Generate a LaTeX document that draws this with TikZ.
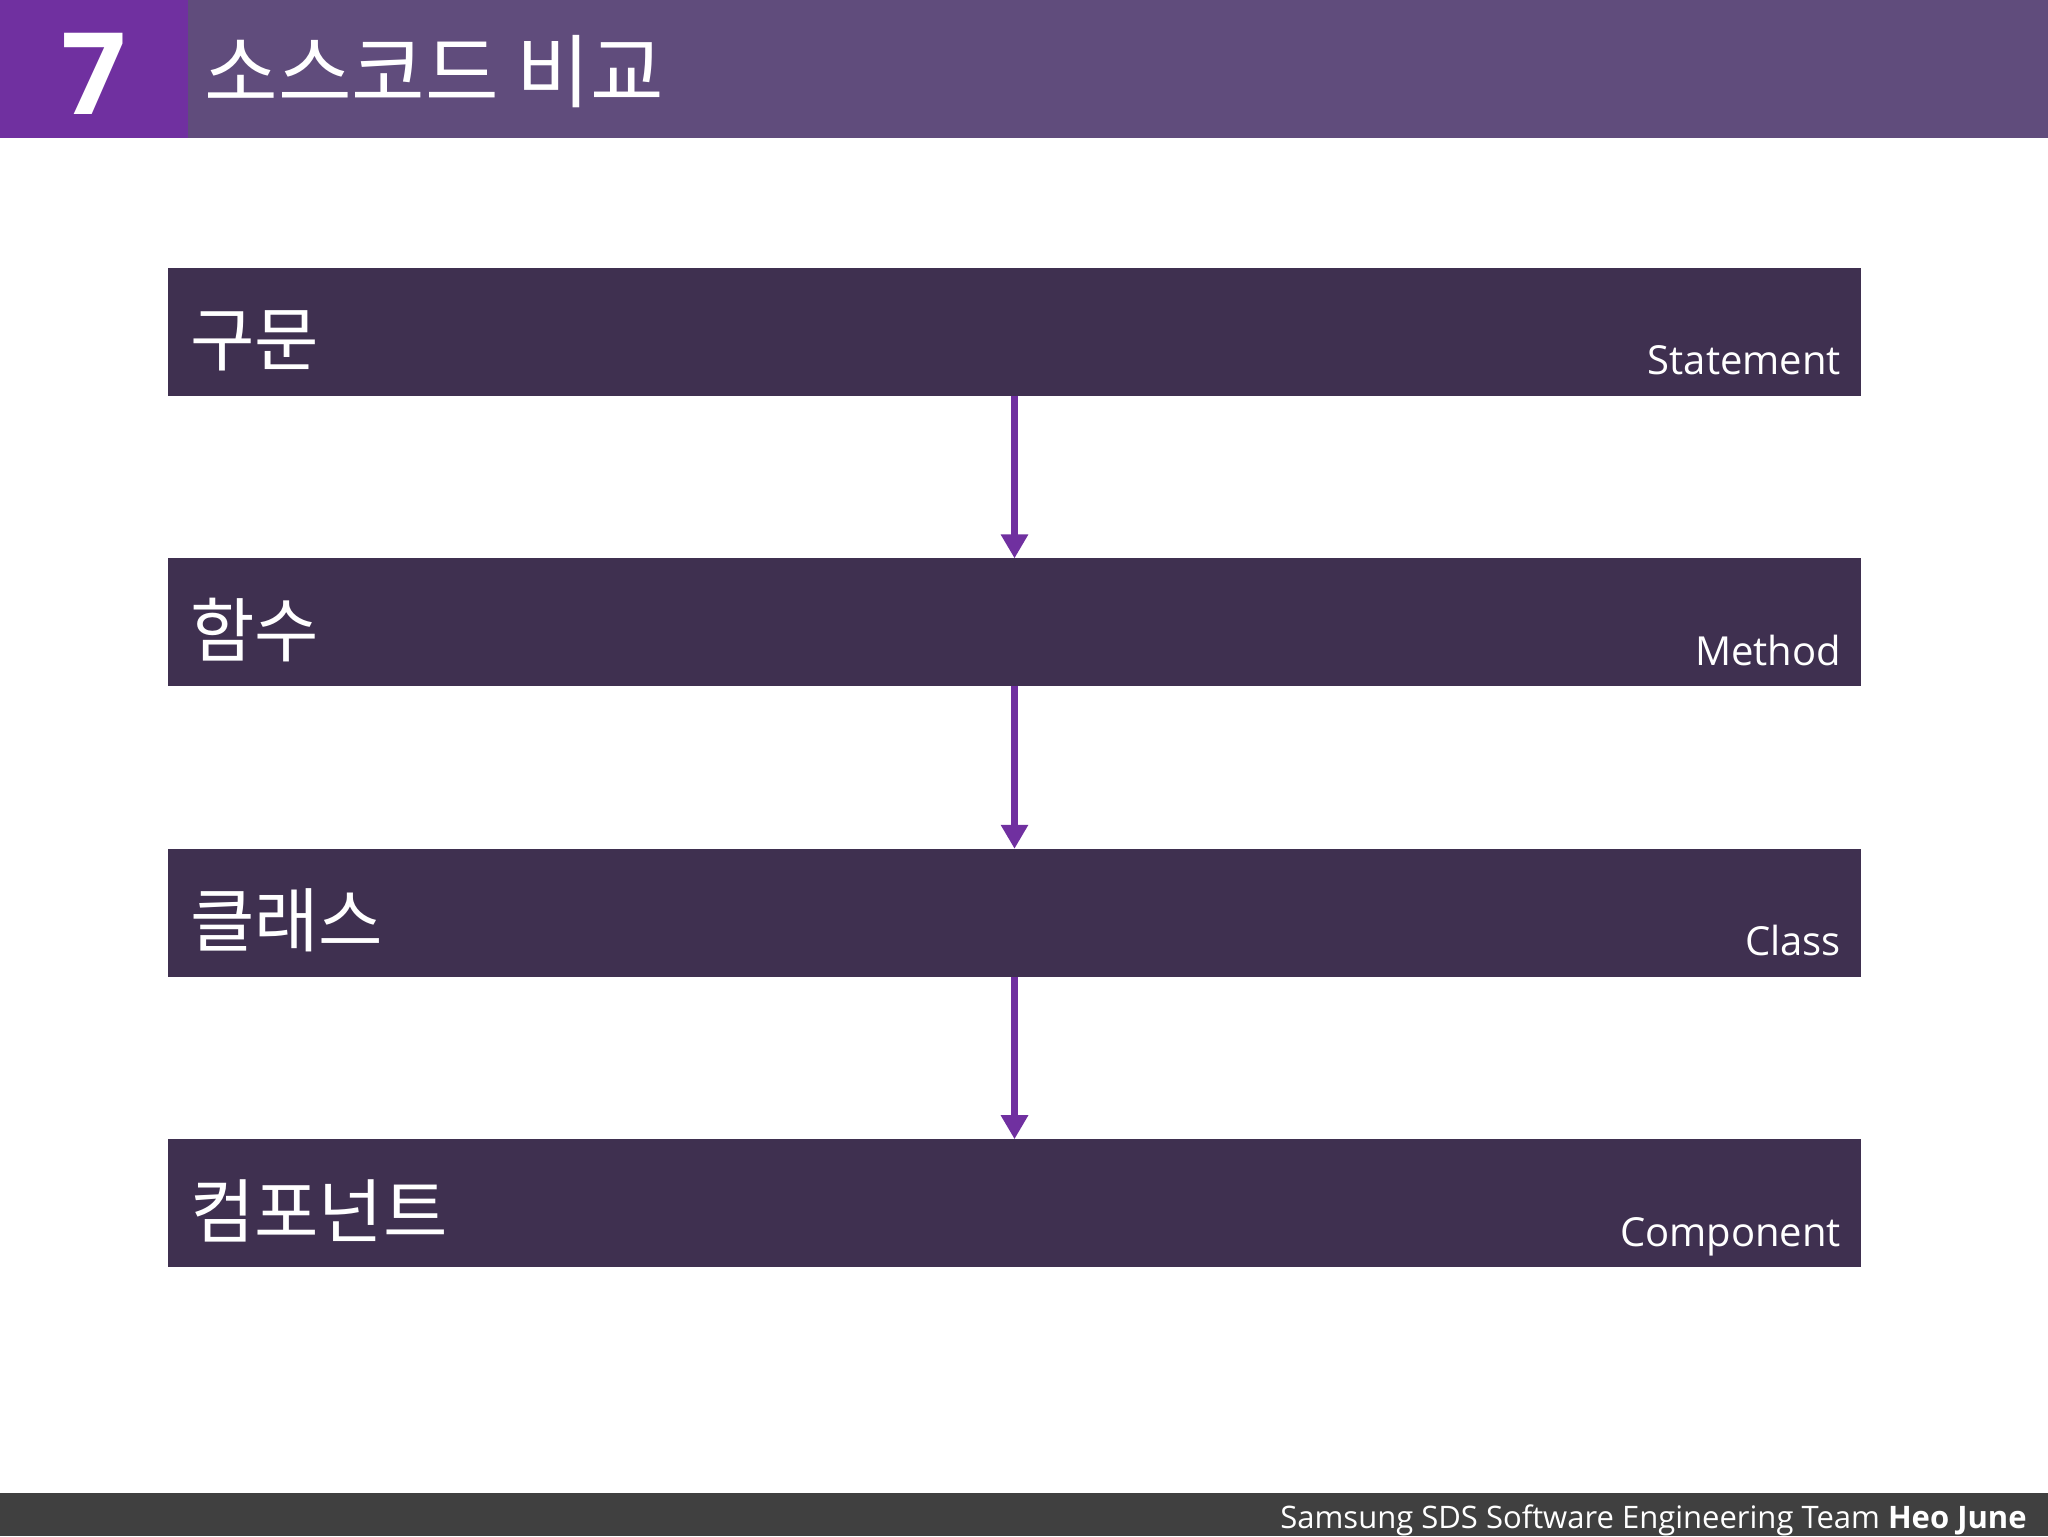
\documentclass[tikz,border=0pt]{standalone}
\usepackage{fontspec}
\setmainfont{Open Sans}
\newfontfamily\kofont{Noto Sans CJK KR}
\usetikzlibrary{arrows.meta}

\tikzset{
  levelbox/.style={fill=boxColor,draw=none,minimum width=846.5pt,minimum height=64pt,inner sep=0pt,outer sep=0pt},
  kolabel/.style={text=white,anchor=base west,inner sep=0pt,outer sep=0pt,font=\kofont\fontsize{35}{40}\selectfont},
  enlabel/.style={text=white,anchor=base east,inner sep=0pt,outer sep=0pt,font=\fontsize{20}{24}\selectfont},
  flowarrow/.style={draw=numColor,line width=3.3pt,-{Triangle[length=12pt,width=13pt]}}
}

\begin{document}
\begin{tikzpicture}[x=1pt,y=1pt]
\definecolor{numColor}{RGB}{112,48,160}
\definecolor{headColor}{RGB}{96,76,124}
\definecolor{boxColor}{RGB}{63,48,80}
\definecolor{footColor}{RGB}{64,64,64}
\path[use as bounding box,fill=white] (0,0) rectangle (1024,768);

\fill[headColor] (0,699) rectangle (1024,768);
\fill[numColor] (0,699) rectangle (94,768);
\node[text=white,anchor=base,inner sep=0pt,font=\bfseries\fontsize{57}{60}\selectfont] (num) at (47,710.5) {7};
\node[text=white,anchor=base west,inner sep=0pt,font=\kofont\fontsize{40}{44}\selectfont] (title) at (102,717) {소스코드 비교};

\node[levelbox] (stmt) at (507.25,602) {};
\node[levelbox] (meth) at (507.25,456.8) {};
\node[levelbox] (cls) at (507.25,311.6) {};
\node[levelbox] (comp) at (507.25,166.4) {};

\node[kolabel] (stmtKo) at ([xshift=11pt,yshift=15pt]stmt.south west) {구문};
\node[kolabel] (methKo) at ([xshift=11pt,yshift=15pt]meth.south west) {함수};
\node[kolabel] (clsKo) at ([xshift=11pt,yshift=15pt]cls.south west) {클래스};
\node[kolabel] (compKo) at ([xshift=11pt,yshift=15pt]comp.south west) {컴포넌트};

\node[enlabel] (stmtEn) at ([xshift=-10pt,yshift=10.5pt]stmt.south east) {Statement};
\node[enlabel] (methEn) at ([xshift=-10pt,yshift=10.5pt]meth.south east) {Method};
\node[enlabel] (clsEn) at ([xshift=-10pt,yshift=10.5pt]cls.south east) {Class};
\node[enlabel] (compEn) at ([xshift=-10pt,yshift=10.5pt]comp.south east) {Component};

\draw[flowarrow] (stmt) -- (meth);
\draw[flowarrow] (meth) -- (cls);
\draw[flowarrow] (cls) -- (comp);

\fill[footColor] (0,0) rectangle (1024,21.5);
\node[text=white,anchor=base east,inner sep=0pt,font=\fontsize{15.5}{18}\selectfont] (foot) at (1013.5,4) {Samsung SDS Software Engineering Team \textbf{Heo June}};
\end{tikzpicture}
\end{document}
